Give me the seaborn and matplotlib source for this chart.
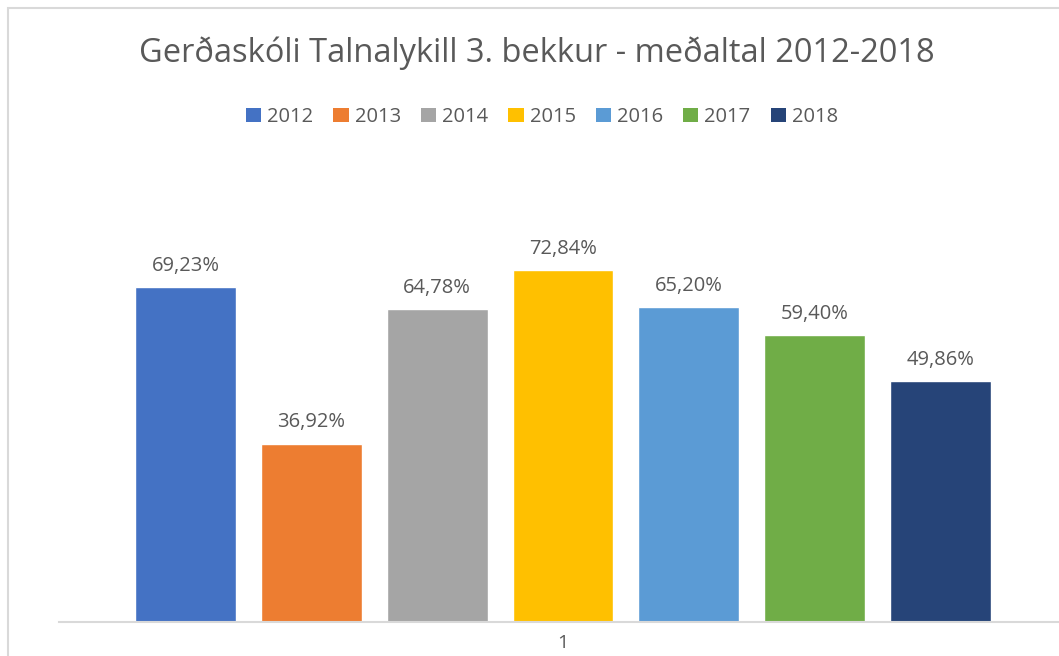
import numpy as np
import pandas as pd
import matplotlib
matplotlib.use("Agg")
import matplotlib.pyplot as plt
import seaborn as sns
from matplotlib.patches import Rectangle, Patch

# ---- data ----
category = ["1"]
years = ["2012", "2013", "2014", "2015", "2016", "2017", "2018"]
values = [69.23, 36.92, 64.78, 72.84, 65.20, 59.40, 49.86]
colors = ["#4472C4", "#ED7D31", "#A5A5A5", "#FFC000", "#5B9BD5", "#70AD47", "#264478"]
title = "Gerðaskóli Talnalykill 3. bekkur - meðaltal 2012-2018"

sns.set_theme(style="white")
plt.rcParams['font.family'] = ['Open Sans', 'DejaVu Sans']
text_color = "#595959"

W, H = 1059, 656
fig = plt.figure(figsize=(W / 100, H / 100), dpi=100)
ax_left, ax_right, ax_top, ax_bottom = 59, 1059, 187, 622
ax = fig.add_axes([ax_left / W, 1 - ax_bottom / H, (ax_right - ax_left) / W, (ax_bottom - ax_top) / H])

df = pd.DataFrame({"cat": category * len(years), "year": years, "value": values})
sns.barplot(data=df, x="cat", y="value", hue="year", hue_order=years, palette=colors,
            width=0.8, gap=0.2, saturation=1, legend=False, ax=ax)

px_per_unit = 125.8 / (0.8 / 7)
ax.set_xlim(-504 / px_per_unit, 496 / px_per_unit)
ax.set_ylim(0, 90)

for i, cont in enumerate(ax.containers):
    ax.bar_label(cont, labels=[f"{values[i]:.2f}%".replace('.', ',')], padding=8,
                 fontsize=14.5, color=text_color)

for s in ["top", "left", "right"]:
    ax.spines[s].set_visible(False)
ax.spines["bottom"].set_color("#d9d9d9")
ax.spines["bottom"].set_linewidth(1.5)
ax.set_yticks([])
ax.set_xlabel("")
ax.set_ylabel("")
ax.tick_params(axis="x", length=0, pad=9, labelsize=14, labelcolor=text_color)
ax.set_facecolor("white")

fig.text(537 / W, 1 - 53 / H, title, ha="center", va="center", fontsize=23.5, color=text_color)

handles = [Patch(facecolor=c, edgecolor="none", label=y) for y, c in zip(years, colors)]
fig.legend(handles=handles, ncol=7, loc="center", bbox_to_anchor=(542 / W, 1 - 117 / H),
           frameon=False, handlelength=0.75, handleheight=0.75, fontsize=14.5,
           handletextpad=0.3, columnspacing=1.0, labelcolor=text_color)

fig.patches.append(Rectangle((8 / W, -0.1), 1.2, 1 - 8 / H + 0.1, transform=fig.transFigure,
                             fill=False, edgecolor="#d9d9d9", lw=1.5))

fig.savefig("out.png", dpi=100)
